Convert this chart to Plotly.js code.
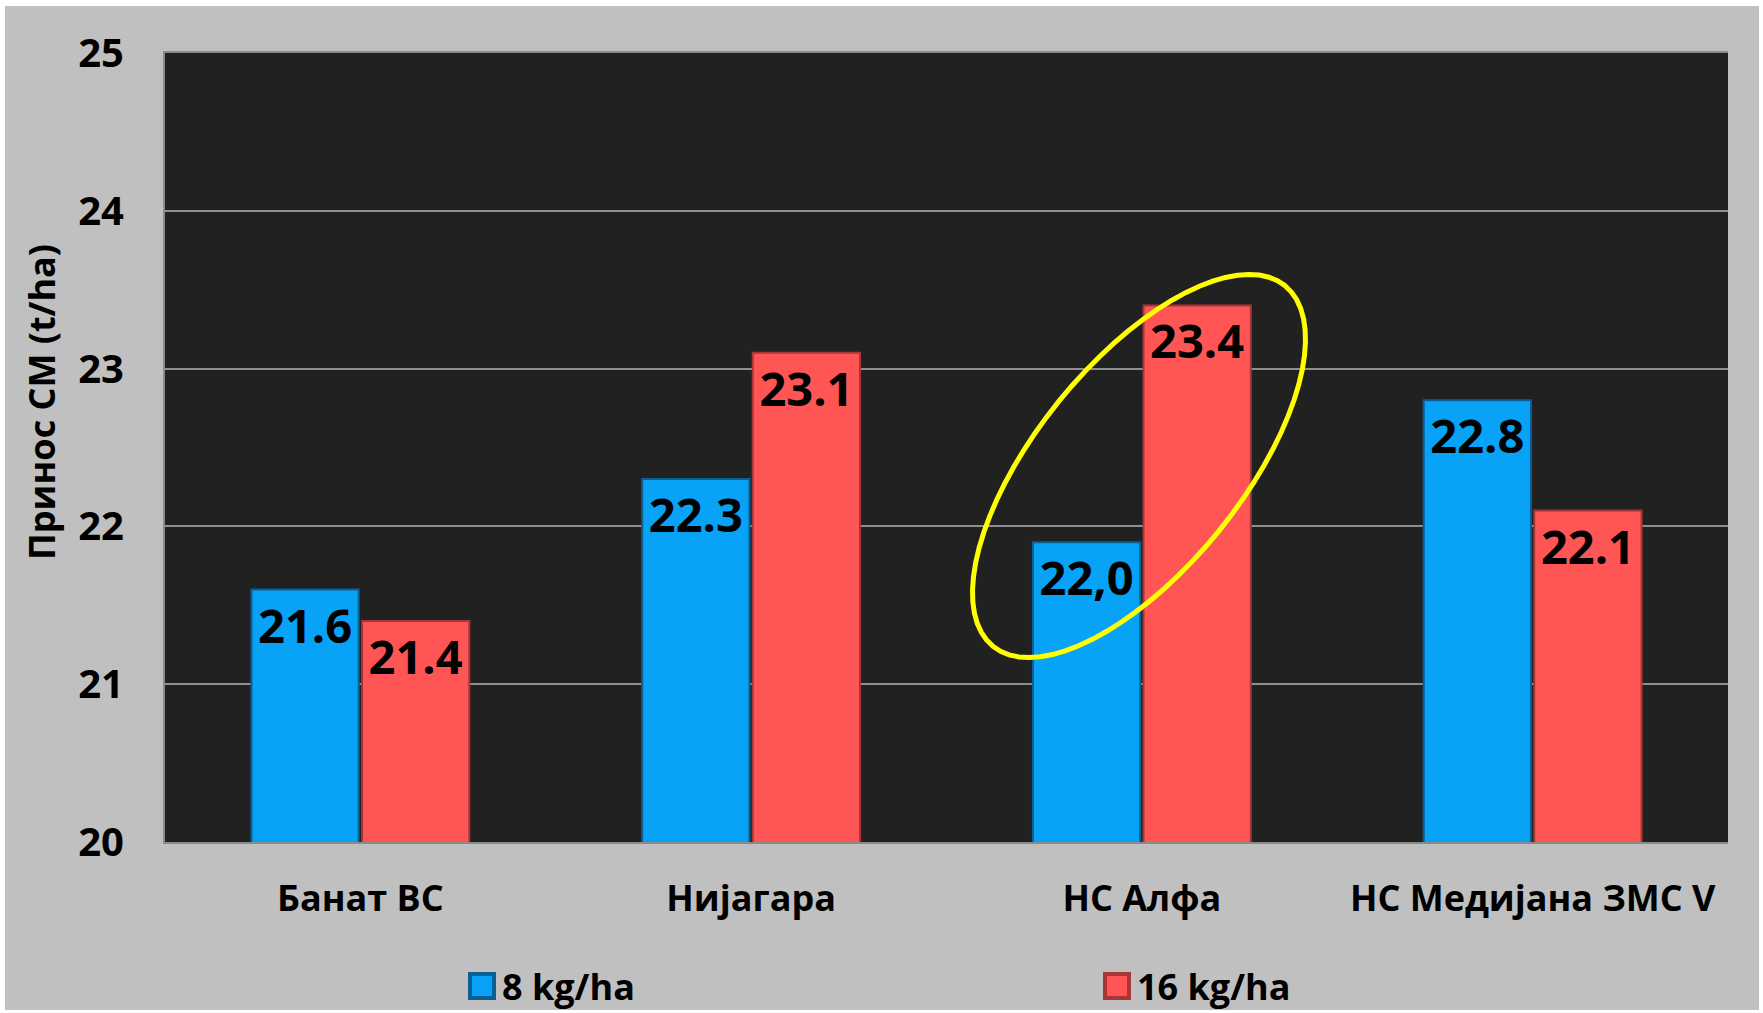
<!DOCTYPE html>
<html>
<head>
<meta charset="utf-8">
<script src="https://cdn.plot.ly/plotly-3.0.1.min.js"></script>
<style>
  html, body { margin: 0; padding: 0; background: #ffffff; }
  #chart { position: absolute; left: 5px; top: 6px; width: 1754px; height: 1004px; }
</style>
</head>
<body>
<div id="chart"></div>
<script>
// ---- data ----
const categories = ['Банат ВС', 'Нијагара', 'НС Алфа', 'НС Медијана ЗМС V'];
const seriesNames = ['8 kg/ha', '16 kg/ha'];
const values8 = [21.6, 22.3, 21.9, 22.8];
const values16 = [21.4, 23.1, 23.4, 22.1];
const labels8 = ['21.6', '22.3', '22,0', '22.8'];
const labels16 = ['21.4', '23.1', '23.4', '22.1'];
const yTicks = [20, 21, 22, 23, 24, 25];
const yTitle = 'Принос СМ (t/ha)';

// ---- layout constants (pixels in the page) ----
const FONT = '"Open Sans", "DejaVu Sans", sans-serif';
const M = { l: 160, r: 31, t: 47, b: 168 };
const plotW = 1754 - M.l - M.r;
const plotH = 1004 - M.t - M.b;

// highlight ellipse around НС Алфа (pixel geometry relative to plot area)
function ellipsePath(cx, cy, a, b, deg) {
  const th = deg * Math.PI / 180;
  let d = '';
  for (let i = 0; i <= 72; i++) {
    const t = i / 72 * 2 * Math.PI;
    const px = cx + a * Math.cos(t) * Math.cos(th) - b * Math.sin(t) * Math.sin(th);
    const py = cy - (a * Math.cos(t) * Math.sin(th) + b * Math.sin(t) * Math.cos(th));
    const xp = px / plotW;
    const yp = 1 - py / plotH;
    d += (i === 0 ? 'M' : 'L') + xp.toFixed(5) + ',' + yp.toFixed(5);
  }
  return d + 'Z';
}

const traces = [
  {
    type: 'bar', name: seriesNames[0], x: categories, y: values8,
    text: labels8, textposition: 'inside', insidetextanchor: 'end',
    textfont: { family: FONT, size: 47, color: '#000000', weight: 700 },
    marker: { color: '#08a2f7', line: { color: '#0a5f96', width: 2 } },
    hoverinfo: 'x+y'
  },
  {
    type: 'bar', name: seriesNames[1], x: categories, y: values16,
    text: labels16, textposition: 'inside', insidetextanchor: 'end',
    textfont: { family: FONT, size: 47, color: '#000000', weight: 700 },
    marker: { color: '#ff5555', line: { color: '#a83636', width: 2 } },
    hoverinfo: 'x+y'
  }
];

const layout = {
  width: 1754, height: 1004,
  margin: M,
  paper_bgcolor: '#c0c0c0',
  plot_bgcolor: '#212121',
  barmode: 'group',
  bargap: 0.434,
  bargroupgap: 0.03,
  font: { family: FONT, color: '#000000', weight: 700 },
  xaxis: {
    type: 'category',
    showgrid: false,
    showline: true, linecolor: '#8a8a8a', linewidth: 2, mirror: true,
    ticks: 'outside', ticklen: 24, tickcolor: 'rgba(0,0,0,0)',
    tickfont: { family: FONT, size: 36, color: '#000000', weight: 700 },
    automargin: false,
    fixedrange: true
  },
  yaxis: {
    range: [20, 25],
    tickvals: yTicks,
    showgrid: true, gridcolor: '#8f8f8f', gridwidth: 2,
    showline: true, linecolor: '#8a8a8a', linewidth: 2,
    zeroline: false,
    ticks: 'outside', ticklen: 31, tickcolor: 'rgba(0,0,0,0)',
    tickfont: { family: FONT, size: 40, color: '#000000', weight: 700 },
    automargin: false,
    fixedrange: true
  },
  annotations: [
    {
      text: yTitle, textangle: -90, showarrow: false,
      xref: 'paper', yref: 'paper',
      x: (41 - 165) / plotW, xanchor: 'center',
      y: 1 - (402 - 53) / plotH, yanchor: 'middle',
      font: { family: FONT, size: 36, color: '#000000', weight: 700 }
    }
  ],
  legend: {
    orientation: 'h',
    x: (462 - 165) / plotW, xanchor: 'left',
    yref: 'container',
    y: 1 - (986 - 6) / 1004, yanchor: 'middle',
    bgcolor: 'rgba(0,0,0,0)',
    font: { family: FONT, size: 36, color: '#000000', weight: 700 },
    entrywidth: 590, entrywidthmode: 'pixels',
    traceorder: 'normal'
  },
  shapes: [
    {
      type: 'path', xref: 'paper', yref: 'paper',
      path: ellipsePath(1139 - 165, 466 - 53, 232, 103, 51),
      line: { color: '#ffff00', width: 5 },
      fillcolor: 'rgba(0,0,0,0)'
    }
  ],
  showlegend: true
};

Plotly.newPlot('chart', traces, layout, { displayModeBar: false, staticPlot: true }).then(function () {
  document.querySelectorAll('.legend .legendpoints path').forEach(function (p) {
    const tr = p.getAttribute('transform') || '';
    p.setAttribute('transform', tr + ' scale(2)');
  });
});
</script>
</body>
</html>
